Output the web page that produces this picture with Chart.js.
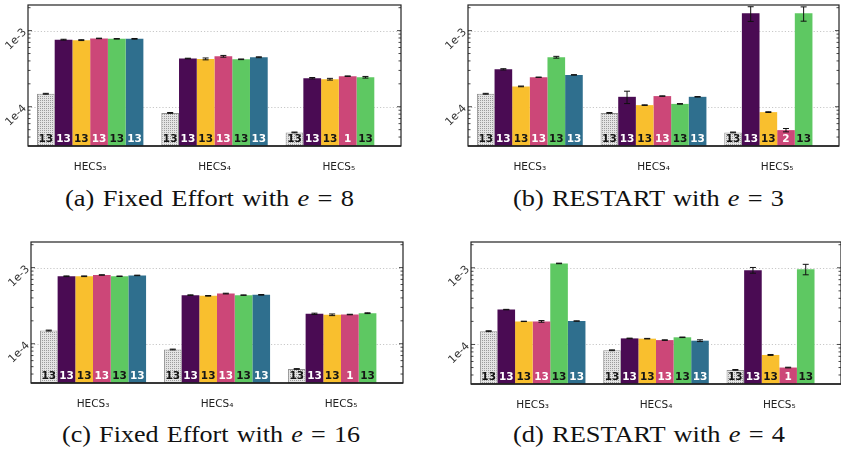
<!DOCTYPE html>
<html><head><meta charset="utf-8">
<script src="https://cdn.jsdelivr.net/npm/chart.js@4/dist/chart.umd.min.js"></script>
<style>
html,body{margin:0;padding:0;background:#fff;overflow:hidden;width:841px;height:451px;position:relative}
canvas{position:absolute}
.cap{position:absolute;font-family:'Liberation Serif',serif;font-size:24px;line-height:24px;word-spacing:1.5px;white-space:nowrap;color:#111;transform-origin:0 0}
</style></head><body>
<canvas id="ca"></canvas><canvas id="cb"></canvas><canvas id="cc"></canvas><canvas id="cd"></canvas>
<script>
// ---------------- data ----------------
const categories = ['HECS\u2083', 'HECS\u2084', 'HECS\u2085'];
const yMajorTicks = [1e-4, 1e-3];
const yTickLabels = ['1e-4', '1e-3'];
const yMinorTicks = [4e-5, 5e-5, 6e-5, 7e-5, 8e-5, 9e-5, 2e-4, 3e-4, 4e-4, 5e-4, 6e-4, 7e-4, 8e-4, 9e-4, 2e-3];
const yMin = 3.05e-5, yMax = 2.17e-3;

// rows: baseline(gray), purple, yellow, pink, green, blue ; columns: categories
const valuesA = [
  [1.48e-4, 8.3e-5, 4.6e-5],
  [7.6e-4, 4.3e-4, 2.37e-4],
  [7.5e-4, 4.25e-4, 2.3e-4],
  [7.9e-4, 4.6e-4, 2.52e-4],
  [7.8e-4, 4.2e-4, 2.44e-4],
  [7.8e-4, 4.47e-4, null]
];
const errorsA = [
  [2e-6, 1e-6, 0.5e-6],
  [1e-5, 4e-6, 5e-6],
  [1e-5, 1.2e-5, 6e-6],
  [6e-6, 1.2e-5, 2e-6],
  [6e-6, 4e-6, 6e-6],
  [8e-6, 6e-6, null]
];
const countsA = [
  [13, 13, 13], [13, 13, 13], [13, 13, 13], [13, 13, 1], [13, 13, 13], [13, 13, null]
];

const valuesB = [
  [1.48e-4, 8.3e-5, 4.6e-5],
  [3.1e-4, 1.35e-4, 1.69e-3],
  [1.85e-4, 1.05e-4, 8.5e-5],
  [2.44e-4, 1.38e-4, 4.93e-5],
  [4.47e-4, 1.09e-4, 1.69e-3],
  [2.62e-4, 1.35e-4, null]
];
const errorsB = [
  [2e-6, 1e-6, 0.5e-6],
  [6e-6, 2.5e-5, 3.7e-4],
  [2e-6, 1e-6, 1e-6],
  [1e-6, 1e-6, 2.5e-6],
  [1.2e-5, 1e-6, 3.6e-4],
  [2e-6, 1e-6, null]
];
const countsB = [
  [13, 13, 13], [13, 13, 13], [13, 13, 13], [13, 13, 2], [13, 13, 13], [13, 13, null]
];

const valuesC = [
  [1.49e-4, 8.4e-5, 4.66e-5],
  [7.7e-4, 4.35e-4, 2.47e-4],
  [7.7e-4, 4.26e-4, 2.4e-4],
  [8.0e-4, 4.56e-4, 2.42e-4],
  [7.7e-4, 4.35e-4, 2.52e-4],
  [7.9e-4, 4.39e-4, null]
];
const errorsC = [
  [2e-6, 1e-6, 0.5e-6],
  [8e-6, 4e-6, 5e-6],
  [8e-6, 4e-6, 6e-6],
  [6e-6, 5e-6, 2e-6],
  [5e-6, 3e-6, 3e-6],
  [6e-6, 4e-6, null]
];
const countsC = [
  [13, 13, 13], [13, 13, 13], [13, 13, 13], [13, 13, 1], [13, 13, 13], [13, 13, null]
];

const valuesD = [
  [1.49e-4, 8.4e-5, 4.66e-5],
  [2.85e-4, 1.2e-4, 9.3e-4],
  [2.0e-4, 1.19e-4, 7.3e-5],
  [2.0e-4, 1.14e-4, 5.0e-5],
  [1.14e-3, 1.24e-4, 9.6e-4],
  [2.02e-4, 1.12e-4, null]
];
const errorsD = [
  [2e-6, 1e-6, 0.5e-6],
  [2e-6, 1e-6, 8e-5],
  [1e-6, 1e-6, 1e-6],
  [5e-6, 1e-6, 0.5e-6],
  [1e-5, 1e-6, 1.5e-4],
  [1e-6, 3e-6, null]
];
const countsD = [
  [13, 13, 13], [13, 13, 13], [13, 13, 13], [13, 13, 1], [13, 13, 13], [13, 13, null]
];

const captions = [
  '(a) Fixed Effort with <i>e</i> = 8',
  '(b) RESTART with <i>e</i> = 3',
  '(c) Fixed Effort with <i>e</i> = 16',
  '(d) RESTART with <i>e</i> = 4'
];

// ---------------- styles / layout ----------------
function hatchPattern() {
  const c = document.createElement('canvas'); c.width = 2; c.height = 2;
  const g = c.getContext('2d');
  g.fillStyle = '#e4e4e4'; g.fillRect(0, 0, 2, 2);
  g.fillStyle = '#9c9c9c'; g.fillRect(0, 0, 1, 1);
  return g.createPattern(c, 'repeat');
}
const barColors = [hatchPattern(), '#4a0b53', '#f9bf2e', '#cc4778', '#5ec862', '#2f6f8e'];
const borderColors = ['#929292', '#4a0b53', '#f9bf2e', '#cc4778', '#5ec862', '#2f6f8e'];
const borderWidths = [1, 0, 0, 0, 0, 0];
const labelColors = ['#151515', '#ffffff', '#151515', '#ffffff', '#151515', '#ffffff'];

const panels = [
  {id: 'ca', left: 0,   top: 0,   width: 404, height: 185, yw: 28, padT: 5, padR: 3, xh: 39, v: valuesA, e: errorsA, n: countsA},
  {id: 'cb', left: 440, top: 0,   width: 401, height: 185, yw: 28, padT: 5, padR: 2, xh: 39, v: valuesB, e: errorsB, n: countsB},
  {id: 'cc', left: 0,   top: 236, width: 406, height: 185, yw: 31, padT: 6, padR: 3, xh: 38, v: valuesC, e: errorsC, n: countsC},
  {id: 'cd', left: 440, top: 236, width: 401, height: 185, yw: 31, padT: 6, padR: 0, xh: 37, v: valuesD, e: errorsD, n: countsD}
];
const capLayout = [
  {cx: 209, base: 206.5, w: 289},
  {cx: 648.5, base: 206.5, w: 271},
  {cx: 210.5, base: 442.4, w: 298},
  {cx: 649, base: 442.4, w: 272}
];

Chart.defaults.font.family = '"DejaVu Sans", sans-serif';
Chart.defaults.animation = false;

function decor(p) {
  return {
    id: 'decor',
    beforeDatasetsDraw(chart) {
      const {ctx, chartArea: a, scales: {y}} = chart;
      ctx.save();
      ctx.strokeStyle = '#c8c8c8'; ctx.lineWidth = 1; ctx.setLineDash([1.2, 2]);
      yMajorTicks.forEach(v => {
        const py = Math.round(y.getPixelForValue(v)) + 0.5;
        ctx.beginPath(); ctx.moveTo(a.left, py); ctx.lineTo(a.right, py); ctx.stroke();
      });
      ctx.restore();
    },
    afterDatasetsDraw(chart) {
      const {ctx, chartArea: a, scales: {y}} = chart;
      ctx.save();
      // error bars
      ctx.strokeStyle = '#111'; ctx.lineWidth = 1;
      p.v.forEach((row, di) => {
        const meta = chart.getDatasetMeta(di);
        row.forEach((val, i) => {
          const err = p.e[di][i];
          if (val == null || err == null) return;
          const x = meta.data[i].x;
          const y1 = y.getPixelForValue(val + err), y2 = y.getPixelForValue(val - err);
          ctx.beginPath();
          ctx.moveTo(x, y1); ctx.lineTo(x, y2);
          ctx.moveTo(x - 3, y1); ctx.lineTo(x + 3, y1);
          ctx.moveTo(x - 3, y2); ctx.lineTo(x + 3, y2);
          ctx.stroke();
        });
      });
      // count labels
      ctx.font = 'bold 10.5px "DejaVu Sans"';
      ctx.textAlign = 'center'; ctx.textBaseline = 'middle';
      p.n.forEach((row, di) => {
        const meta = chart.getDatasetMeta(di);
        row.forEach((c, i) => {
          if (c == null) return;
          ctx.fillStyle = labelColors[di];
          ctx.fillText(String(c), meta.data[i].x, a.bottom - 7);
        });
      });
      // inward ticks on both sides
      ctx.strokeStyle = '#333'; ctx.lineWidth = 0.9;
      const drawTick = (v, len) => {
        const py = y.getPixelForValue(v);
        ctx.beginPath();
        ctx.moveTo(a.left, py); ctx.lineTo(a.left + len, py);
        ctx.moveTo(a.right, py); ctx.lineTo(a.right - len, py);
        ctx.stroke();
      };
      yMajorTicks.forEach(v => drawTick(v, 4));
      yMinorTicks.forEach(v => drawTick(v, 2.5));
      // frame
      ctx.strokeStyle = '#222'; ctx.lineWidth = 1.2;
      ctx.strokeRect(a.left, a.top, a.right - a.left, a.bottom - a.top);
      ctx.lineWidth = 1.6;
      ctx.beginPath(); ctx.moveTo(a.left, a.bottom); ctx.lineTo(a.right, a.bottom); ctx.stroke();
      ctx.restore();
    }
  };
}

panels.forEach(p => {
  const cv = document.getElementById(p.id);
  cv.width = p.width; cv.height = p.height;
  cv.style.left = p.left + 'px'; cv.style.top = p.top + 'px';
  cv.style.width = p.width + 'px'; cv.style.height = p.height + 'px';
  new Chart(cv, {
    type: 'bar',
    data: {
      labels: categories,
      datasets: p.v.map((row, di) => ({
        data: row,
        backgroundColor: barColors[di],
        borderColor: borderColors[di],
        borderWidth: borderWidths[di],
        borderSkipped: false,
        categoryPercentage: 0.856,
        barPercentage: 1.0
      }))
    },
    options: {
      responsive: false,
      devicePixelRatio: 1,
      animation: false,
      layout: {padding: {top: p.padT, right: p.padR, left: 0, bottom: 0}},
      plugins: {legend: {display: false}, tooltip: {enabled: false}},
      scales: {
        x: {
          type: 'category',
          grid: {display: false, drawTicks: false},
          border: {display: false},
          ticks: {font: {size: 10.5}, color: '#222', padding: 15, maxRotation: 0, minRotation: 0},
          afterFit(s) { s.height = p.xh; s.paddingLeft = 0; s.paddingRight = 0; }
        },
        y: {
          type: 'logarithmic',
          min: yMin, max: yMax,
          bounds: 'data',
          grid: {display: false, drawTicks: false},
          border: {display: false},
          ticks: {
            font: {size: 11}, color: '#333', padding: 3,
            minRotation: 45, maxRotation: 45,
            callback: (v) => { const k = yMajorTicks.indexOf(v); return k >= 0 ? yTickLabels[k] : ''; }
          },
          afterBuildTicks(s) { s.ticks = yMajorTicks.map(v => ({value: v})); },
          afterFit(s) { s.width = p.yw; s.paddingTop = 0; s.paddingBottom = 0; }
        }
      }
    },
    plugins: [decor(p)]
  });
});

// captions
captions.forEach((html, i) => {
  const d = document.createElement('div');
  d.className = 'cap';
  d.innerHTML = html;
  document.body.appendChild(d);
  const L = capLayout[i];
  const w = d.getBoundingClientRect().width;
  const sx = L.w / w;
  d.style.left = (L.cx - L.w / 2) + 'px';
  d.style.top = (L.base - 20.1) + 'px';
  d.style.transform = 'scaleX(' + sx.toFixed(4) + ')';
});
</script>
</body></html>
